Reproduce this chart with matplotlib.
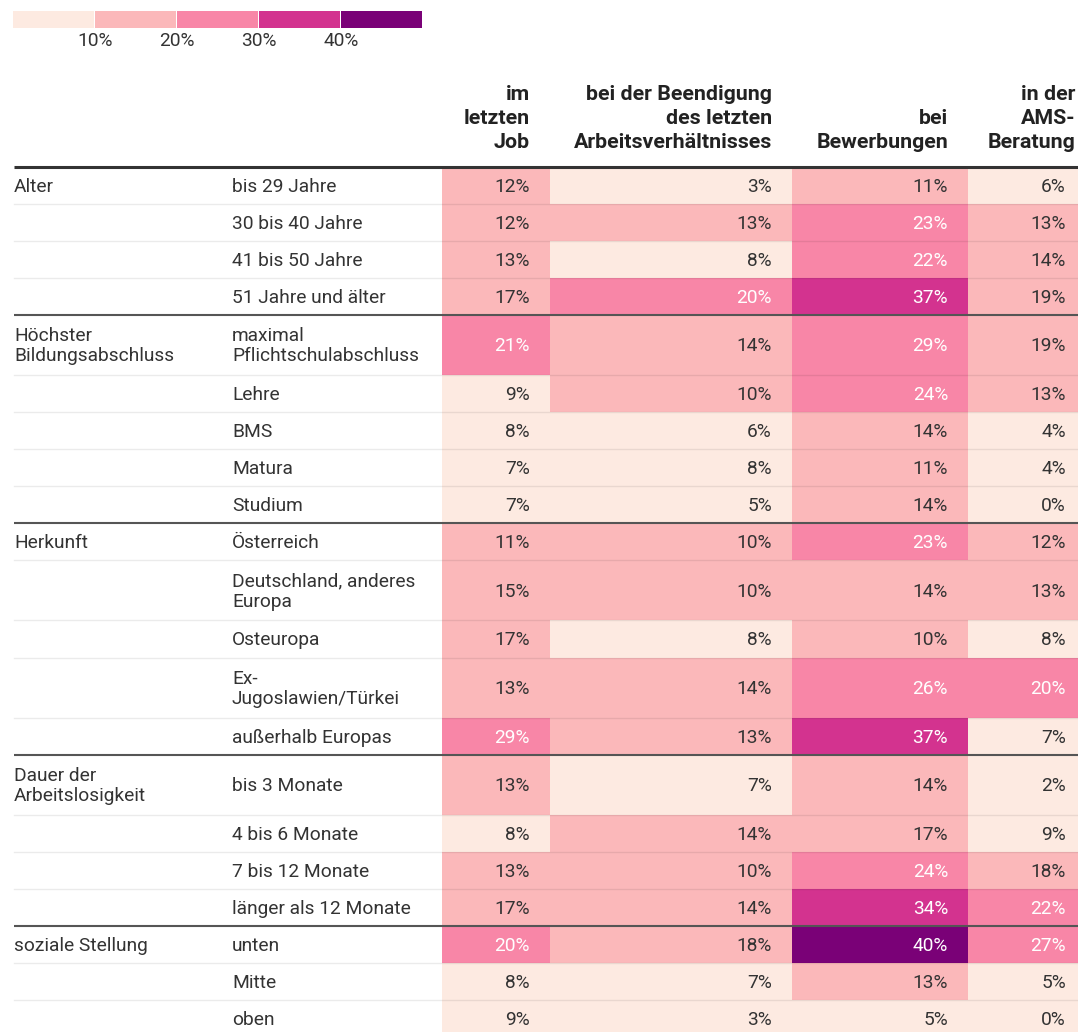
import numpy as np
from matplotlib import pyplot as plt

plt.rcParams['font.family'] = ['Roboto', 'DejaVu Sans']

# data
groups = ['Alter', 'Höchster\nBildungsabschluss', 'Herkunft',
          'Dauer der\nArbeitslosigkeit', 'soziale Stellung']
group_sizes = [4, 5, 5, 4, 3]
row_labels = ['bis 29 Jahre', '30 bis 40 Jahre', '41 bis 50 Jahre', '51 Jahre und älter',
              'maximal\nPflichtschulabschluss', 'Lehre', 'BMS', 'Matura', 'Studium',
              'Österreich', 'Deutschland, anderes\nEuropa', 'Osteuropa',
              'Ex-\nJugoslawien/Türkei', 'außerhalb Europas',
              'bis 3 Monate', '4 bis 6 Monate', '7 bis 12 Monate', 'länger als 12 Monate',
              'unten', 'Mitte', 'oben']
col_headers = ['im\nletzten\nJob', 'bei der Beendigung\ndes letzten\nArbeitsverhältnisses',
               'bei\nBewerbungen', 'in der\nAMS-\nBeratung']
letzter_job = [12, 12, 13, 17, 21, 9, 8, 7, 7, 11, 15, 17, 13, 29, 13, 8, 13, 17, 20, 8, 9]
beendigung = [3, 13, 8, 20, 14, 10, 6, 8, 5, 10, 10, 8, 14, 13, 7, 14, 10, 14, 18, 7, 3]
bewerbungen = [11, 23, 22, 37, 29, 24, 14, 11, 14, 23, 14, 10, 26, 37, 14, 17, 24, 34, 40, 13, 5]
ams_beratung = [6, 13, 14, 19, 19, 13, 4, 4, 0, 12, 13, 8, 20, 7, 2, 9, 18, 22, 27, 5, 0]
legend_ticks = [10, 20, 30, 40]

columns = [letzter_job, beendigung, bewerbungen, ams_beratung]
bin_colors = ['#fdeae1', '#fbb8ba', '#f886a7', '#d3338f', '#7a0177']

W, H = 1078, 1032
fig = plt.figure(figsize=(W / 100, H / 100), dpi=100)
ax = fig.add_axes([0, 0, 1, 1])
ax.set_xlim(0, W)
ax.set_ylim(H, 0)
ax.axis('off')

fs = 13.8
txt = '#333333'
col_left = [442, 550, 792, 968]
col_right = [550, 792, 968, 1078]
x_group, x_label = 14, 232

# legend
seg_w = 82
for i, c in enumerate(bin_colors):
    ax.barh(19.5, seg_w - 1.5, left=13 + i * seg_w, height=17, color=c, align='center')
for i, t in enumerate(legend_ticks):
    ax.text(13 + (i + 1) * seg_w, 41, f'{t}%', ha='center', va='center', fontsize=fs, color=txt)

# header
for j, h in enumerate(col_headers):
    ax.text(col_right[j] - 20 if j < 3 else col_right[j] - 3, 148, h, ha='right', va='baseline',
            fontsize=15.4, fontweight='bold', color='#222222', linespacing=1.32,
            multialignment='right')

# rows
group_of_row = np.repeat(np.arange(len(groups)), group_sizes)
first_rows = np.cumsum([0] + group_sizes[:-1])
y = 166.5
for r, lab in enumerate(row_labels):
    g = group_of_row[r]
    nl = lab.count('\n') + 1
    if r in first_rows:
        nl = max(nl, groups[g].count('\n') + 1)
    h = 37.1 if nl == 1 else 60.0
    yc = y + h / 2 + 1.5
    for j, col in enumerate(columns):
        v = col[r]
        b = min(v // 10, 4)
        ax.barh(y + h / 2, col_right[j] - col_left[j], left=col_left[j], height=h,
                color=bin_colors[b], align='center', zorder=1)
        ax.text(col_right[j] - 20 if j < 3 else col_right[j] - 12, yc, f'{v}%',
                ha='right', va='center', fontsize=fs,
                color='white' if v >= 20 else txt, zorder=3)
    ax.text(x_label, yc, lab, ha='left', va='center', fontsize=fs, color=txt,
            linespacing=1.15, zorder=3)
    if r in first_rows:
        ax.text(x_group, yc, groups[g], ha='left', va='center', fontsize=fs, color=txt,
                linespacing=1.15, zorder=3)
        lw, lc = (2.2, '#333333') if r == 0 else (1.5, '#555555')
        ax.plot([14, W], [y, y], color=lc, lw=lw, zorder=4, solid_capstyle='butt')
    else:
        ax.plot([14, W], [y, y], color='black', alpha=0.08, lw=1, zorder=2)
    y += h

fig.savefig('out.png', dpi=100)
